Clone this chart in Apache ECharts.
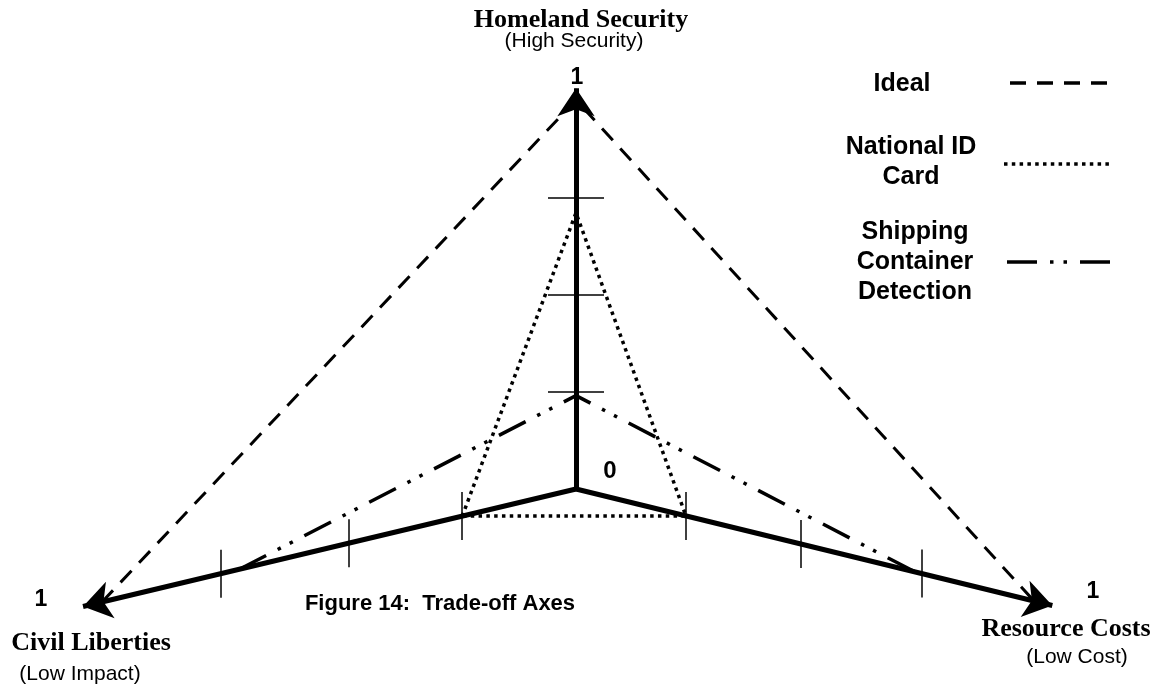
<!DOCTYPE html>
<html>
<head>
<meta charset="utf-8">
<script src="https://cdn.jsdelivr.net/npm/echarts@6/dist/echarts.min.js"></script>
<style>
  html, body { margin: 0; padding: 0; background: #fff; }
  #chart { width: 1160px; height: 689px; }
</style>
</head>
<body>
<div id="chart"></div>
<script>
// axis order: Civil Liberties (left), Homeland Security (top), Resource Costs (right)
const axisNames = ['Civil Liberties', 'Homeland Security', 'Resource Costs'];
const axisSubtitles = ['(Low Impact)', '(High Security)', '(Low Cost)'];
const seriesNames = ['Ideal', 'National ID\nCard', 'Shipping\nContainer\nDetection'];
const idealValues = [1, 1, 1];
const nationalIdValues = [0.24, 0.71, 0.24];
const shippingValues = [0.71, 0.24, 0.74];
const civilTicks = [0.24, 0.48, 0.75];
const homelandTicks = [0.25, 0.5, 0.75];
const resourceTicks = [0.24, 0.49, 0.755];
const axisEnds = [1.04, 1.03, 1.04]; // arrow tips sit a bit past 1
const endLabel = '1';
const originLabel = '0';
const caption = 'Figure 14:  Trade-off Axes';

// geometry: where value 1 sits on each axis (plot units = px, origin at the centre)
const axisDirs = [[-474, -113], [0, 389], [458, -112]];
const pt = (i, v) => [axisDirs[i][0] * v, axisDirs[i][1] * v];

const serif = '"Liberation Serif", "Times New Roman", serif';
const sans = '"Liberation Sans", Arial, sans-serif';

const dashIdeal = [16, 11];
const dashId = [3.5, 4.3];
const dashShip = [30, 13, 3.5, 10, 3.5, 13];

function polyline(values, closed) {
  const d = values.map((v, i) => pt(i, v));
  if (closed) d.push(d[0]);
  return d;
}

const axisLines = axisDirs.map((d, i) => ({ coords: [[0, 0], pt(i, axisEnds[i])] }));
const tickLines = [];
[civilTicks, homelandTicks, resourceTicks].forEach((ticks, i) => {
  ticks.forEach(v => {
    const p = pt(i, v);
    if (i === 1) tickLines.push({ coords: [[p[0] - 28, p[1]], [p[0] + 28, p[1]]] });
    else tickLines.push({ coords: [[p[0], p[1] - 24], [p[0], p[1] + 24]] });
  });
});

function txt(x, y, text, font) {
  return {
    type: 'text', x: x, y: y,
    style: { text: text, font: font, fill: '#000', textAlign: 'center', textVerticalAlign: 'middle', lineHeight: 30 }
  };
}

function legendLine(y, x1, x2, dash) {
  return {
    type: 'line', shape: { x1: x1, y1: y, x2: x2, y2: y },
    style: { stroke: '#000', lineWidth: 3.5, lineDash: dash, lineCap: 'butt' }
  };
}

const chart = echarts.init(document.getElementById('chart'));
chart.setOption({
  backgroundColor: '#fff',
  animation: false,
  grid: { left: 0, right: 0, top: 0, bottom: 0 },
  xAxis: { type: 'value', min: -576, max: 584, show: false },
  yAxis: { type: 'value', min: -200, max: 489, show: false },
  series: [
    {
      name: seriesNames[0], type: 'line', data: polyline(idealValues, false),
      symbol: 'none', z: 2,
      lineStyle: { color: '#000', width: 3, type: dashIdeal, cap: 'butt' }
    },
    {
      name: seriesNames[1], type: 'line', data: polyline(nationalIdValues, true),
      symbol: 'none', z: 2,
      lineStyle: { color: '#000', width: 3.5, type: dashId, cap: 'butt' }
    },
    {
      name: seriesNames[2], type: 'line', data: polyline(shippingValues, false),
      symbol: 'none', z: 2,
      lineStyle: { color: '#000', width: 3.5, type: dashShip, cap: 'butt' }
    },
    {
      name: 'axes', type: 'lines', coordinateSystem: 'cartesian2d', z: 3,
      data: axisLines, symbol: ['none', 'arrow'], symbolSize: 28,
      lineStyle: { color: '#000', width: 5, opacity: 1, curveness: 0 }
    },
    {
      name: 'ticks', type: 'lines', coordinateSystem: 'cartesian2d', z: 3,
      data: tickLines, symbol: 'none',
      lineStyle: { color: '#000', width: 1.5, opacity: 1, curveness: 0 }
    }
  ],
  graphic: [
    txt(581, 20, axisNames[1], 'bold 26px ' + serif),
    txt(574, 41, axisSubtitles[1], '21px ' + sans),
    txt(577, 78, endLabel, 'bold 23px ' + sans),
    txt(610, 471, originLabel, 'bold 24px ' + sans),
    txt(41, 600, endLabel, 'bold 23px ' + sans),
    txt(1093, 592, endLabel, 'bold 23px ' + sans),
    txt(91, 643, axisNames[0], 'bold 26px ' + serif),
    txt(80, 674, axisSubtitles[0], '21px ' + sans),
    txt(1066, 629, axisNames[2], 'bold 26px ' + serif),
    txt(1077, 657, axisSubtitles[2], '21px ' + sans),
    txt(440, 604, caption, 'bold 22px ' + sans),
    // legend
    txt(902, 84, seriesNames[0], 'bold 25px ' + sans),
    txt(911, 162, seriesNames[1], 'bold 25px ' + sans),
    txt(915, 262, seriesNames[2], 'bold 25px ' + sans),
    legendLine(83, 1010, 1110, dashIdeal),
    legendLine(164, 1004, 1112, dashId),
    legendLine(262, 1007, 1113, dashShip)
  ]
});
</script>
</body>
</html>
